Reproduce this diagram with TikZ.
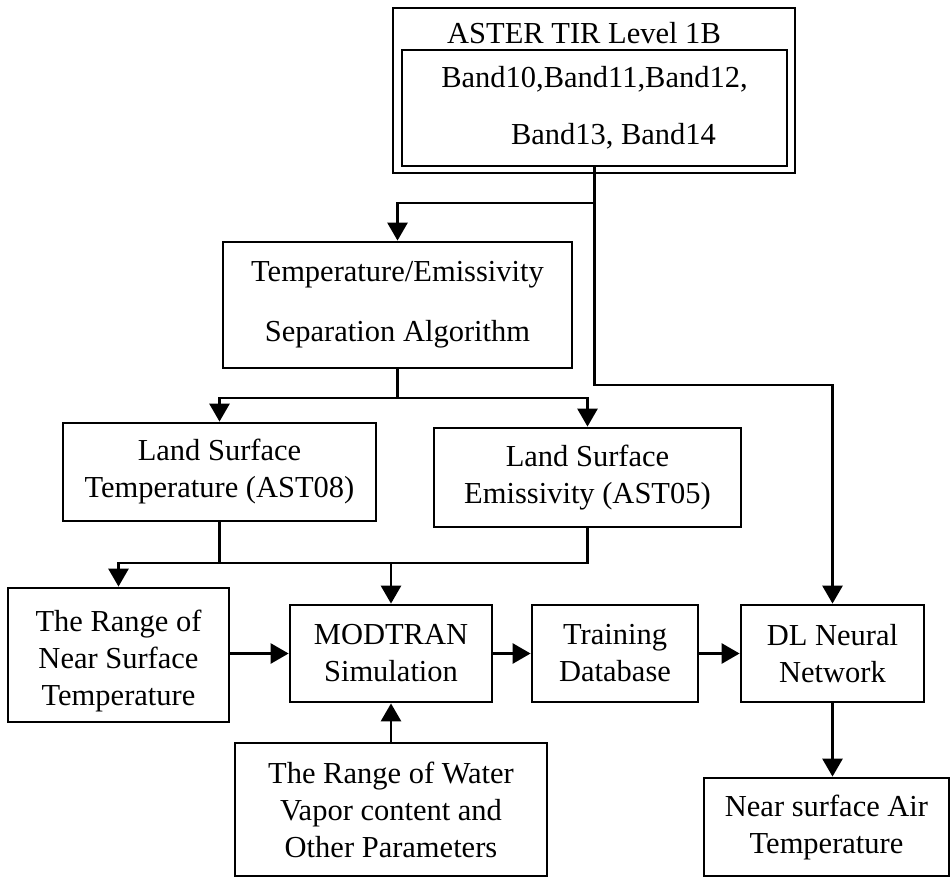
\documentclass[tikz,border=0pt]{standalone}
\usepackage{fontspec}
\setmainfont{Liberation Serif}
\usetikzlibrary{arrows.meta}
\begin{document}
\begin{tikzpicture}[x=1pt,y=-1pt,
  box/.style={draw,line width=2.8pt,inner sep=0pt,align=center,font=\fontsize{30.5}{37}\selectfont},
  lbl/.style={inner sep=0pt,align=center,font=\fontsize{30.5}{37}\selectfont},
  arr/.style={line width=2.8pt,-{Triangle[length=18pt,width=20pt]}},
  ln/.style={line width=2.8pt}]
\useasboundingbox (0,0) rectangle (952,877);
% top
\node[box,minimum width=402pt,minimum height=165pt] (outer) at (594,90.5) {};
\node[lbl] (title) at (584,33) {ASTER TIR Level 1B};
\node[box,minimum width=385pt,minimum height=116pt] (inner) at (594.5,108) {Band10,Band11,Band12,\\[20pt]\hspace*{38pt}Band13, Band14};
% nodes
\node[box,minimum width=349pt,minimum height=126pt] (tes) at (397.5,305) {Temperature/Emissivity\\[23pt]Separation Algorithm};
\node[box,minimum width=313pt,minimum height=98pt] (lst) at (219.5,472) {Land Surface\\Temperature (AST08)};
\node[box,minimum width=307pt,minimum height=99pt] (lse) at (587.5,477.5) {Land Surface\\Emissivity (AST05)};
\node[box,minimum width=221pt,minimum height=134pt] (range) at (118.5,655) {\\[-4pt]The Range of\\Near Surface\\Temperature};
\node[box,minimum width=202pt,minimum height=97pt] (mod) at (391,653.5) {MODTRAN\\Simulation};
\node[box,minimum width=312pt,minimum height=133pt] (water) at (391,809.5) {The Range of Water\\Vapor content and\\Other Parameters};
\node[box,minimum width=166pt,minimum height=97pt] (train) at (615,653.5) {Training\\Database};
\node[box,minimum width=183pt,minimum height=97pt] (dl) at (832.5,653.5) {DL Neural\\Network};
\node[box,minimum width=245pt,minimum height=98pt] (near) at (826.5,827) {Near surface Air\\Temperature};
% coordinates
\coordinate (k1) at (594.5,203);
\coordinate (k2) at (832.5,385);
\coordinate (k3) at (397.5,398);
\coordinate (k4) at (219.5,563);
% connectors
\draw[arr] (inner.south) -- (k1) -| (tes.north);
\draw[arr] (k1) |- (k2) -- (dl.north);
\draw[arr] (tes.south) -- (k3) -| (lst.north);
\draw[arr] (k3) -| (lse.north);
\draw[arr] (lst.south) -- (k4) -| (range.north);
\draw[ln] (lse.south) |- (k4);
\draw[arr] (mod.north |- k4) -- (mod.north);
\draw[arr] (range.east |- mod.west) -- (mod.west);
\draw[arr] (mod.east) -- (train.west);
\draw[arr] (train.east) -- (dl.west);
\draw[arr] (water.north) -- (mod.south);
\draw[arr] (dl.south) -- (dl.south |- near.north);
\end{tikzpicture}
\end{document}
